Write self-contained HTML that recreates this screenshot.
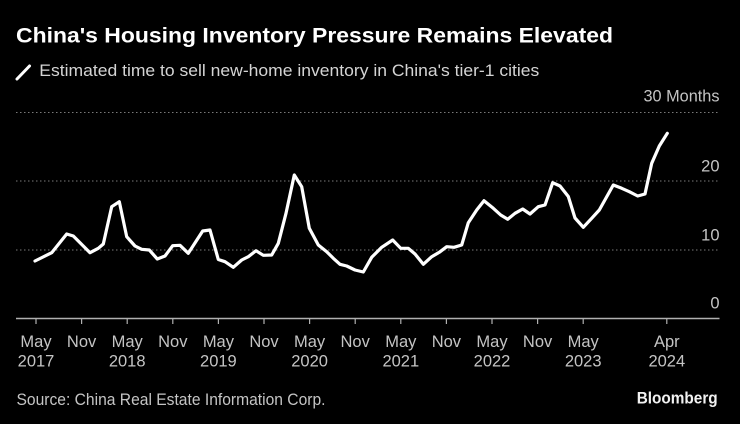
<!DOCTYPE html>
<html><head><meta charset="utf-8"><style>
html,body{margin:0;padding:0;background:#000;}
svg{display:block;}
text{font-family:"Liberation Sans",sans-serif;}
</style></head><body>
<svg width="740" height="424" viewBox="0 0 740 424" xmlns="http://www.w3.org/2000/svg">
<rect width="740" height="424" fill="#000"/>
<text x="16" y="42.3" font-size="21" font-weight="bold" fill="#fff" textLength="597" lengthAdjust="spacingAndGlyphs">China's Housing Inventory Pressure Remains Elevated</text>
<line x1="17" y1="79" x2="29.5" y2="66" stroke="#fff" stroke-width="3" stroke-linecap="round"/>
<text x="39.3" y="76" font-size="17" fill="#d4d4d4" textLength="500" lengthAdjust="spacingAndGlyphs">Estimated time to sell new-home inventory in China's tier-1 cities</text>
<g stroke="#7a7a7a" stroke-width="1" stroke-dasharray="1.5 2.5">
<line x1="16" y1="112.5" x2="719" y2="112.5"/>
<line x1="16" y1="181" x2="719" y2="181"/>
<line x1="16" y1="250" x2="719" y2="250"/>
</g>
<g font-size="16.5" fill="#c4c4c4" text-anchor="end">
<text x="719.5" y="101.7" textLength="76" lengthAdjust="spacingAndGlyphs">30 Months</text>
<text x="719.5" y="171.7">20</text>
<text x="719.5" y="240.5">10</text>
<text x="719.5" y="308.5">0</text>
</g>
<line x1="16" y1="318.5" x2="719.5" y2="318.5" stroke="#b0b0b0" stroke-width="1.5"/>
<g stroke="#b0b0b0" stroke-width="1.2">
<line x1="36" y1="318" x2="36" y2="324"/>
<line x1="81.6" y1="318" x2="81.6" y2="324"/>
<line x1="127.2" y1="318" x2="127.2" y2="324"/>
<line x1="172.8" y1="318" x2="172.8" y2="324"/>
<line x1="218.4" y1="318" x2="218.4" y2="324"/>
<line x1="264" y1="318" x2="264" y2="324"/>
<line x1="309.6" y1="318" x2="309.6" y2="324"/>
<line x1="355.2" y1="318" x2="355.2" y2="324"/>
<line x1="400.8" y1="318" x2="400.8" y2="324"/>
<line x1="446.4" y1="318" x2="446.4" y2="324"/>
<line x1="492" y1="318" x2="492" y2="324"/>
<line x1="537.6" y1="318" x2="537.6" y2="324"/>
<line x1="583.2" y1="318" x2="583.2" y2="324"/>
<line x1="666.8" y1="318" x2="666.8" y2="324"/>
</g>
<g font-size="16.5" fill="#c4c4c4" text-anchor="middle">
<text x="36" y="347">May</text><text x="36" y="366.5">2017</text>
<text x="81.6" y="347">Nov</text>
<text x="127.2" y="347">May</text><text x="127.2" y="366.5">2018</text>
<text x="172.8" y="347">Nov</text>
<text x="218.4" y="347">May</text><text x="218.4" y="366.5">2019</text>
<text x="264" y="347">Nov</text>
<text x="309.6" y="347">May</text><text x="309.6" y="366.5">2020</text>
<text x="355.2" y="347">Nov</text>
<text x="400.8" y="347">May</text><text x="400.8" y="366.5">2021</text>
<text x="446.4" y="347">Nov</text>
<text x="492" y="347">May</text><text x="492" y="366.5">2022</text>
<text x="537.6" y="347">Nov</text>
<text x="583.2" y="347">May</text><text x="583.2" y="366.5">2023</text>
<text x="666.8" y="347">Apr</text><text x="666.8" y="366.5">2024</text>
</g>
<polyline fill="none" stroke="#fff" stroke-width="3.2" stroke-linejoin="round" stroke-linecap="round" points="35,261 51.7,252.7 66.7,234 73.3,236 90,252.7 98.3,248.3 103.3,244 111.7,206.7 119.3,201.7 126.7,236.7 135,246 141.7,249.3 149.3,250 157.3,259 165,256 172.7,245.7 180,245.3 188.3,253.3 202.7,231 210,230 218.3,259.5 225,261.7 233.3,267.3 241.7,260 248.3,256.7 256,250.7 263.3,255.3 271.7,255 278.3,243.3 286,213.3 294.3,175 301.7,186.7 309.3,228.3 318.3,245 326.7,251.7 333.3,258.3 340,264.3 346.7,266 355,270 363.3,272 371.7,257.3 381.7,247.3 392.7,240 400.7,248.3 408.3,248.3 415,254 423.3,264.3 431.7,256.7 439.3,252.3 446.7,246.7 454,247.3 461.7,245 468.3,222.7 476.7,210 484,200.7 493.3,208.3 500.7,215 507.7,219.3 515,213.3 522.7,209 530,214 538.3,206.7 545,205 552.7,182.7 560,186 568.3,196.5 575,218 583.3,227.3 591.7,218.3 599.3,210 613.3,185 621.7,188.3 629.3,191.7 637.7,196 645,194 651.7,163.3 659.3,146 667.3,133.3"/>
<text x="16.5" y="405" font-size="16.5" fill="#c4c4c4" textLength="309" lengthAdjust="spacingAndGlyphs">Source: China Real Estate Information Corp.</text>
<text x="636.7" y="403.5" font-size="16.5" font-weight="bold" fill="#f2f2f2" textLength="81" lengthAdjust="spacingAndGlyphs">Bloomberg</text>
</svg>
</body></html>
